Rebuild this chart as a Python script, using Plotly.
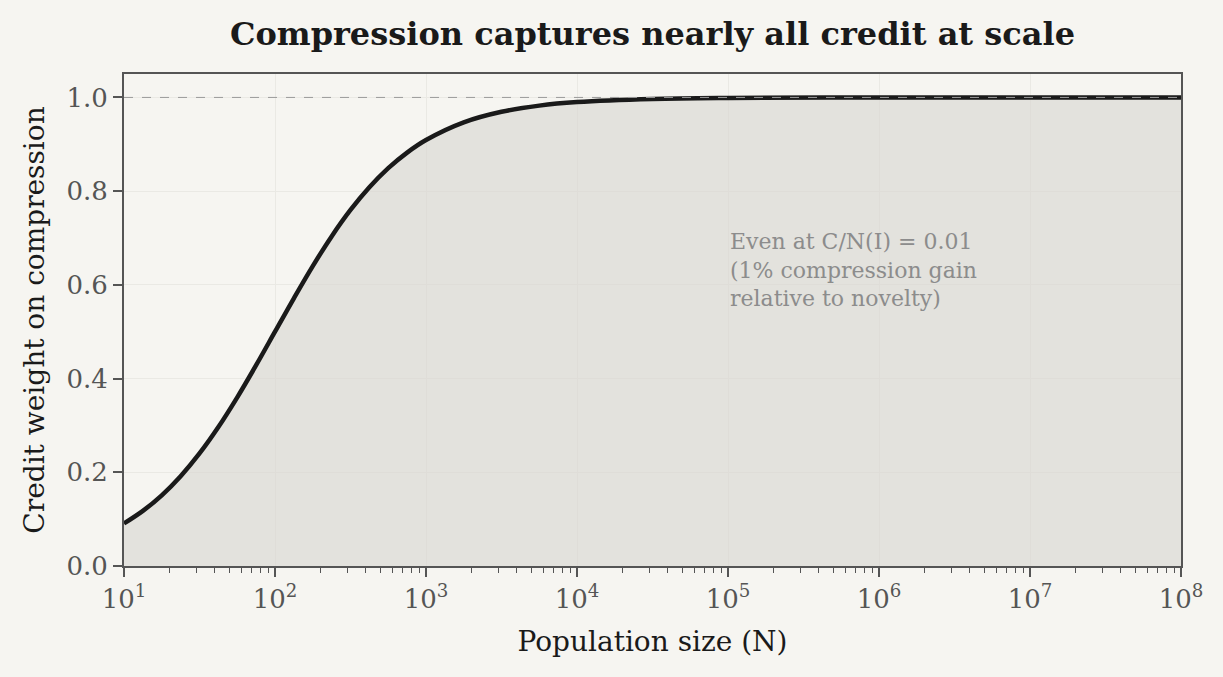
import plotly.graph_objects as go

# Data (log10 of population size, credit weight)
log_n = [1.0, 1.125, 1.25, 1.375, 1.5, 1.625, 1.75, 1.875, 2.0, 2.125, 2.25, 2.375,
         2.5, 2.625, 2.75, 2.875, 3.0, 3.25, 3.5, 3.75, 4.0, 4.5, 5.0, 6.0, 7.0, 8.0]
credit_weight = [0.0909, 0.1177, 0.1509, 0.1917, 0.2402, 0.2966, 0.3600, 0.4286, 0.5,
                 0.5714, 0.6400, 0.7034, 0.7598, 0.8083, 0.8491, 0.8823, 0.9091, 0.9468,
                 0.9693, 0.9825, 0.9901, 0.9968, 0.9990, 0.9999, 1.0, 1.0]
population = [10 ** v for v in log_n]

x_tickvals = [10, 100, 1000, 10000, 100000, 1000000, 10000000, 100000000]
x_ticktext = ["10<sup>1</sup>", "10<sup>2</sup>", "10<sup>3</sup>", "10<sup>4</sup>",
              "10<sup>5</sup>", "10<sup>6</sup>", "10<sup>7</sup>", "10<sup>8</sup>"]
y_tickvals = [0.0, 0.2, 0.4, 0.6, 0.8, 1.0]
y_ticktext = ["0.0", "0.2", "0.4", "0.6", "0.8", "1.0"]

FONT = "Georgia, 'DejaVu Serif', serif"
BG = "#f6f5f1"
AX = "#555555"

fig = go.Figure()
fig.add_trace(go.Scatter(
    x=population, y=credit_weight, mode="lines",
    line=dict(color="#1a1a1a", width=4.5, shape="spline"),
    fill="tozeroy", fillcolor="rgba(215,213,209,0.6)",
    hoverinfo="skip", showlegend=False,
))

fig.add_shape(type="line", xref="paper", x0=0, x1=1, yref="y", y0=1.0, y1=1.0,
              line=dict(color="#9a9a9a", width=1, dash="dash"), layer="above")

fig.add_annotation(
    x=5, y=0.724, xref="x", yref="y", xanchor="left", yanchor="top",
    text="Even at C/N(I) = 0.01<br>(1% compression gain<br>relative to novelty)",
    showarrow=False, align="left",
    font=dict(family=FONT, size=22, color="#8c8c8c"),
)

fig.update_layout(
    width=1223, height=677,
    paper_bgcolor=BG, plot_bgcolor=BG,
    margin=dict(l=124, r=42, t=74, b=111),
    title=dict(text="<b>Compression captures nearly all credit at scale</b>",
               x=0.5, xref="paper", xanchor="center", y=0.95, yanchor="middle",
               font=dict(family=FONT, size=32, color="#1a1a1a")),
    font=dict(family=FONT, color=AX),
)

fig.update_xaxes(
    type="log", range=[1, 8],
    tickvals=x_tickvals, ticktext=x_ticktext,
    tickfont=dict(family=FONT, size=26, color=AX),
    ticks="outside", ticklen=9, tickwidth=1.5, tickcolor=AX,
    showline=True, linecolor=AX, linewidth=2, mirror=True,
    showgrid=True, gridcolor="#eae9e4", gridwidth=1,
    minor=dict(ticks="outside", ticklen=5, tickwidth=1, tickcolor=AX, showgrid=False, dtick="D1"),
    zeroline=False,
    title=dict(text="Population size (N)", font=dict(family=FONT, size=28, color="#1a1a1a"),
               standoff=18),
)
fig.update_yaxes(
    range=[0, 1.05],
    tickvals=y_tickvals, ticktext=y_ticktext,
    tickfont=dict(family=FONT, size=26, color=AX),
    ticks="outside", ticklen=9, tickwidth=1.5, tickcolor=AX,
    showline=True, linecolor=AX, linewidth=2, mirror=True,
    showgrid=True, gridcolor="#eae9e4", gridwidth=1,
    zeroline=False,
    title=dict(text="Credit weight on compression", font=dict(family=FONT, size=28, color="#1a1a1a"),
               standoff=14),
)

fig.write_html("out.html")
